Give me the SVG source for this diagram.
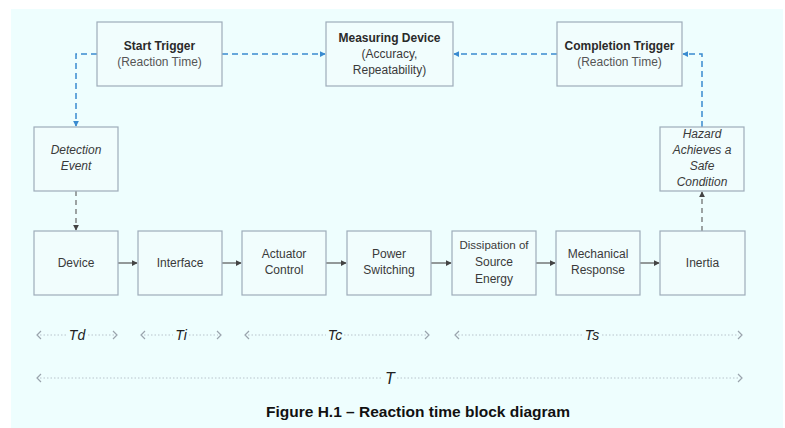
<svg xmlns="http://www.w3.org/2000/svg" width="785" height="428" viewBox="0 0 785 428">
  <style>
    .box { fill: #f1fdfd; stroke: #9eacb9; stroke-width: 1.2; }
    .t { font-family: "Liberation Sans", "Open Sans", sans-serif; font-size: 12px; fill: #3a3a3a; text-anchor: middle; }
    .b { font-weight: bold; fill: #2a2a2a; }
    .sub { fill: #555; }
    .i { font-style: italic; }
    .blue { fill: none; stroke: #3a8bd0; stroke-width: 1.5; stroke-dasharray: 6 4; }
    .gdash { fill: none; stroke: #666; stroke-width: 1.2; stroke-dasharray: 5 4; }
    .flow { fill: none; stroke: #555; stroke-width: 1.2; }
    .dot { fill: none; stroke: #b8c4cc; stroke-width: 1; stroke-dasharray: 1.5 2; }
    .chev { fill: none; stroke: #9aa4ad; stroke-width: 1.2; }
    .tl { font-family: "Liberation Sans", "Open Sans", sans-serif; font-size: 14px; font-style: italic; fill: #222; text-anchor: middle; }
  </style>
  <defs>
    <marker id="ab" viewBox="0 0 8 8" refX="7" refY="4" markerWidth="6" markerHeight="6" markerUnits="userSpaceOnUse" orient="auto">
      <path d="M0,0 L8,4 L0,8 z" fill="#3a8bd0"/>
    </marker>
    <marker id="ag" viewBox="0 0 8 8" refX="7" refY="4" markerWidth="6" markerHeight="6" markerUnits="userSpaceOnUse" orient="auto">
      <path d="M0,0 L8,4 L0,8 z" fill="#444"/>
    </marker>
  </defs>

  <!-- page background -->
  <rect x="11" y="9" width="772" height="419" fill="#eefefe"/>

  <!-- connectors -->
  <g id="connectors">
    <path class="blue" d="M97,54 H76 V126" marker-end="url(#ab)"/>
    <path class="blue" d="M222,54 H325" marker-end="url(#ab)"/>
    <path class="blue" d="M557,54 H454" marker-end="url(#ab)"/>
    <path class="blue" d="M702,127 V54 H683" marker-end="url(#ab)"/>
    <path class="gdash" d="M76,191 V230" marker-end="url(#ag)"/>
    <path class="gdash" d="M702,231 V192" marker-end="url(#ag)"/>
    <path class="flow" d="M118,263 H137" marker-end="url(#ag)"/>
    <path class="flow" d="M222,263 H241" marker-end="url(#ag)"/>
    <path class="flow" d="M326,263 H346" marker-end="url(#ag)"/>
    <path class="flow" d="M431,263 H451" marker-end="url(#ag)"/>
    <path class="flow" d="M536,263 H555" marker-end="url(#ag)"/>
    <path class="flow" d="M640,263 H659" marker-end="url(#ag)"/>
  </g>

  <g id="start-trigger">
    <rect class="box" x="97" y="22" width="125" height="64"/>
    <text class="t b" x="159.5" y="50">Start Trigger</text>
    <text class="t sub" x="159.5" y="66">(Reaction Time)</text>
  </g>
  <g id="measuring-device">
    <rect class="box" x="326" y="22" width="127" height="64"/>
    <text class="t b" x="389.5" y="42">Measuring Device</text>
    <text class="t" x="389.5" y="58">(Accuracy,</text>
    <text class="t" x="389.5" y="74">Repeatability)</text>
  </g>
  <g id="completion-trigger">
    <rect class="box" x="557" y="22" width="125" height="64"/>
    <text class="t b" x="619.5" y="50">Completion Trigger</text>
    <text class="t sub" x="619.5" y="66">(Reaction Time)</text>
  </g>
  <g id="detection-event">
    <rect class="box" x="34" y="127" width="84" height="64"/>
    <text class="t i" x="76" y="154">Detection</text>
    <text class="t i" x="76" y="170">Event</text>
  </g>
  <g id="hazard-safe">
    <rect class="box" x="660" y="127" width="84" height="64"/>
    <text class="t i" x="702" y="138">Hazard</text>
    <text class="t i" x="702" y="154">Achieves a</text>
    <text class="t i" x="702" y="170">Safe</text>
    <text class="t i" x="702" y="186">Condition</text>
  </g>

  <g id="device">
    <rect class="box" x="34" y="231" width="84" height="64"/>
    <text class="t" x="76" y="267">Device</text>
  </g>
  <g id="interface">
    <rect class="box" x="138" y="231" width="84" height="64"/>
    <text class="t" x="180" y="267">Interface</text>
  </g>
  <g id="actuator-control">
    <rect class="box" x="242" y="231" width="84" height="64"/>
    <text class="t" x="284" y="258">Actuator</text>
    <text class="t" x="284" y="274">Control</text>
  </g>
  <g id="power-switching">
    <rect class="box" x="347" y="231" width="84" height="64"/>
    <text class="t" x="389" y="258">Power</text>
    <text class="t" x="389" y="274">Switching</text>
  </g>
  <g id="dissipation">
    <rect class="box" x="452" y="231" width="84" height="64"/>
    <text class="t" x="494" y="249" style="font-size:11.5px">Dissipation of</text>
    <text class="t" x="494" y="266">Source</text>
    <text class="t" x="494" y="283">Energy</text>
  </g>
  <g id="mechanical-response">
    <rect class="box" x="556" y="231" width="84" height="64"/>
    <text class="t" x="598" y="258">Mechanical</text>
    <text class="t" x="598" y="274">Response</text>
  </g>
  <g id="inertia">
    <rect class="box" x="660" y="231" width="85" height="64"/>
    <text class="t" x="702.5" y="267">Inertia</text>
  </g>

  <!-- timing spans -->
  <g id="timing">
    <path class="dot" d="M40,335 H66 M88,335 H114"/>
    <path class="chev" d="M41,331 L37,335 L41,339 M113,331 L117,335 L113,339"/>
    <text class="tl" x="77" y="340">Td</text>

    <path class="dot" d="M144,335 H173 M189,335 H218"/>
    <path class="chev" d="M145,331 L141,335 L145,339 M217,331 L221,335 L217,339"/>
    <text class="tl" x="181" y="340">Ti</text>

    <path class="dot" d="M248,335 H326 M344,335 H426"/>
    <path class="chev" d="M249,331 L245,335 L249,339 M425,331 L429,335 L425,339"/>
    <text class="tl" x="335" y="340">Tc</text>

    <path class="dot" d="M458,335 H583 M602,335 H739"/>
    <path class="chev" d="M459,331 L455,335 L459,339 M738,331 L742,335 L738,339"/>
    <text class="tl" x="592" y="340">Ts</text>

    <path class="dot" d="M40,378 H383 M397,378 H739"/>
    <path class="chev" d="M41,374 L37,378 L41,382 M738,374 L742,378 L738,382"/>
    <text class="tl" x="390" y="384" style="font-size:16px">T</text>
  </g>

  <text x="418" y="417" style="font-family:'Liberation Sans',Arial,sans-serif;font-size:15.5px;font-weight:bold;fill:#111" text-anchor="middle">Figure H.1 – Reaction time block diagram</text>
</svg>
